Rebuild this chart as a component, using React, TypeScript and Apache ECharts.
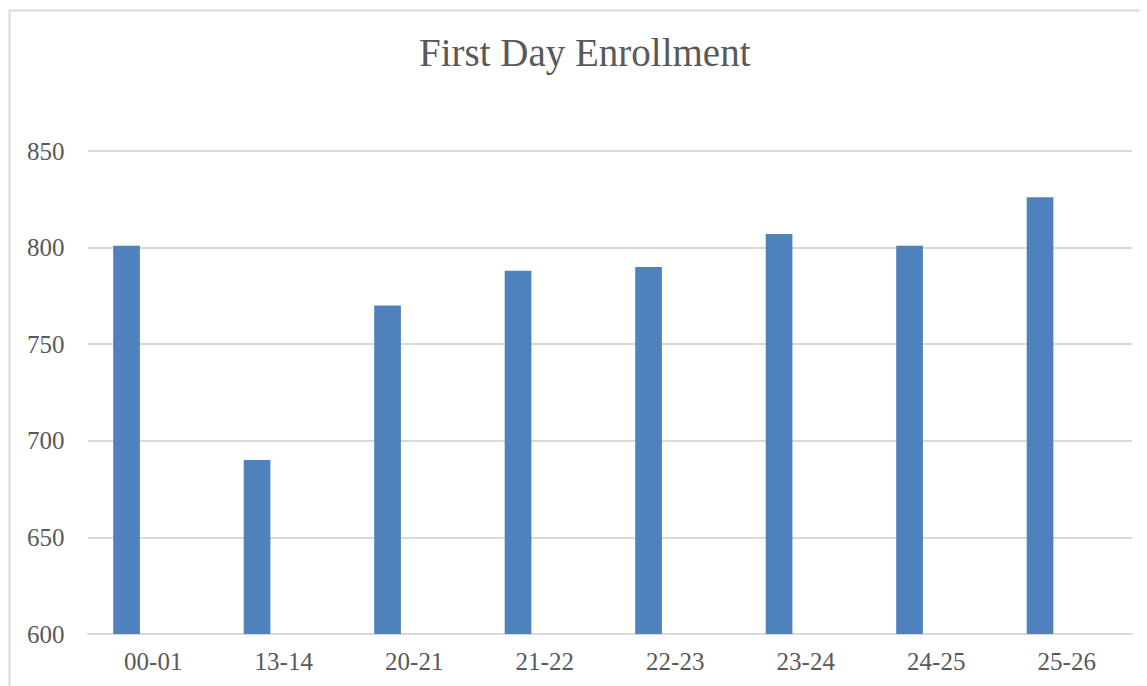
import React, { useEffect, useRef } from "react";
import * as echarts from "echarts";

const categories = ["00-01", "13-14", "20-21", "21-22", "22-23", "23-24", "24-25", "25-26"];
const enrollment = [801, 690, 770, 788, 790, 807, 801, 826];
const emptyA = [null, null, null, null, null, null, null, null];
const emptyB = [null, null, null, null, null, null, null, null];
const chartTitle = "First Day Enrollment";

export default function App() {
  const ref = useRef<HTMLDivElement>(null);
  useEffect(() => {
    const chart = echarts.init(ref.current!, null, { renderer: "svg" });
    const font = "'Liberation Serif', 'DejaVu Serif', serif";
    chart.setOption({
      animation: false,
      backgroundColor: "#ffffff",
      title: {
        text: chartTitle,
        left: 406,
        top: 20,
        textStyle: { fontFamily: font, fontSize: 39, fontWeight: "normal", color: "#595959" },
      },
      graphic: [
        {
          type: "polyline",
          shape: { points: [[1.5, 700], [1.5, 2.5], [1200, 2.5]] },
          style: { stroke: "#d9d9d9", lineWidth: 2, fill: "none" },
          silent: true,
        },
      ],
      grid: { left: 80, right: 15, top: 143, bottom: 52, containLabel: false },
      xAxis: {
        type: "category",
        data: categories,
        axisLine: { show: true, lineStyle: { color: "#d9d9d9", width: 2 } },
        axisTick: { show: false },
        axisLabel: { fontFamily: font, fontSize: 25, color: "#595959", margin: 15 },
      },
      yAxis: {
        type: "value",
        min: 600,
        max: 850,
        interval: 50,
        axisLine: { show: false },
        axisTick: { show: false },
        splitLine: { lineStyle: { color: "#d9d9d9", width: 2 } },
        axisLabel: { fontFamily: font, fontSize: 25, color: "#595959", margin: 61, align: "left" },
      },
      series: [
        { type: "bar", data: enrollment, barWidth: 26.7, barGap: "0%", itemStyle: { color: "#4f81bd" } },
        { type: "bar", data: emptyA, barWidth: 26.7, barGap: "0%" },
        { type: "bar", data: emptyB, barWidth: 26.7, barGap: "0%" },
      ],
    });
    return () => chart.dispose();
  }, []);
  return <div ref={ref} style={{ width: 1139, height: 678 }} />;
}
